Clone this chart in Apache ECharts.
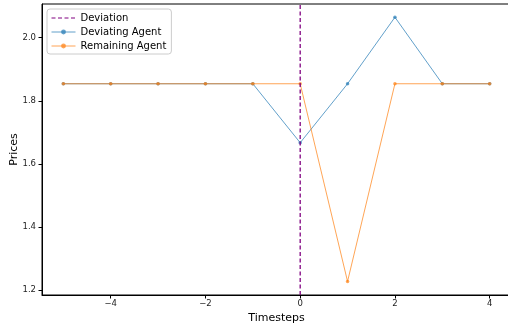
<!DOCTYPE html>
<html>
<head>
<meta charset="utf-8">
<script src="https://cdn.jsdelivr.net/npm/echarts@6/dist/echarts.min.js"></script>
<style>
html,body{margin:0;padding:0;background:#fff;}
#c{width:508px;height:330px;}
</style>
</head>
<body>
<div id="c"></div>
<script>
const timesteps = [-5, -4, -3, -2, -1, 0, 1, 2, 3, 4];
const deviatingAgent = [1.854, 1.854, 1.854, 1.854, 1.854, 1.667, 1.854, 2.065, 1.854, 1.854];
const remainingAgent = [1.854, 1.854, 1.854, 1.854, 1.854, 1.854, 1.227, 1.854, 1.854, 1.854];
const deviationStep = 0;
const xTicks = [-4, -2, 0, 2, 4];
const yTicks = [1.2, 1.4, 1.6, 1.8, 2.0];
const xRange = [-5.45, 4.45];
const yRange = [1.184, 2.107];

const font = 'DejaVu Sans';
const chart = echarts.init(document.getElementById('c'), null, {renderer: 'canvas'});
const pair = (xs, ys) => xs.map((x, i) => [x, ys[i]]);
const fmtMinus = v => (v < 0 ? '\u2212' + Math.abs(v) : String(v));

chart.setOption({
  animation: false,
  backgroundColor: '#fff',
  grid: {left: 42, top: 4, right: -3, bottom: 35, outerBoundsMode: 'none', containLabel: false,
         show: true, borderColor: '#000', borderWidth: 1, backgroundColor: 'transparent'},
  legend: {
    orient: 'vertical', left: 47, top: 9,
    itemWidth: 24, itemHeight: 6, itemGap: 4,
    padding: [4, 5, 3, 4],
    borderColor: '#ccc', borderWidth: 1, borderRadius: 3,
    backgroundColor: 'rgba(255,255,255,0.8)',
    textStyle: {fontFamily: font, fontSize: 10, color: '#000'},
    lineStyle: {width: 1},
    data: [
      {name: 'Deviation', itemStyle: {opacity: 0}},
      {name: 'Deviating Agent', lineStyle: {opacity: 0.7}},
      {name: 'Remaining Agent', lineStyle: {opacity: 0.7}}
    ]
  },
  xAxis: {
    type: 'value', min: xRange[0], max: xRange[1],
    name: 'Timesteps', nameLocation: 'middle', nameGap: 18, nameMoveOverlap: false,
    nameTextStyle: {fontFamily: font, fontSize: 11, color: '#000'},
    axisLine: {show: true, onZero: false, lineStyle: {color: '#000', width: 1}},
    axisTick: {show: true, length: 3.5, customValues: xTicks, lineStyle: {color: '#000'}},
    axisLabel: {customValues: xTicks, formatter: fmtMinus, fontFamily: font, fontSize: 8.5, color: '#222', margin: 4},
    splitLine: {show: false}
  },
  yAxis: {
    type: 'value', min: yRange[0], max: yRange[1],
    name: 'Prices', nameLocation: 'middle', nameGap: 22, nameMoveOverlap: false,
    nameTextStyle: {fontFamily: font, fontSize: 11, color: '#000'},
    axisLine: {show: true, onZero: false, lineStyle: {color: '#000', width: 1}},
    axisTick: {show: true, length: 3.5, customValues: yTicks, lineStyle: {color: '#000'}},
    axisLabel: {customValues: yTicks, formatter: v => v.toFixed(1), fontFamily: font, fontSize: 8.5, color: '#222', margin: 6},
    splitLine: {show: false}
  },
  series: [
    {
      name: 'Deviation', type: 'line', symbol: 'none',
      data: [[deviationStep, yRange[0]], [deviationStep, yRange[1]]],
      lineStyle: {color: '#800080', width: 1.3, type: [4, 2.5]},
      itemStyle: {color: '#800080'},
      z: 5
    },
    {
      name: 'Deviating Agent', type: 'line', symbol: 'circle', symbolSize: 3.5,
      data: pair(timesteps, deviatingAgent),
      lineStyle: {color: '#1f77b4', width: 1, opacity: 0.7},
      itemStyle: {color: '#1f77b4', opacity: 0.7},
      z: 3
    },
    {
      name: 'Remaining Agent', type: 'line', symbol: 'circle', symbolSize: 3.5,
      data: pair(timesteps, remainingAgent),
      lineStyle: {color: '#ff7f0e', width: 1, opacity: 0.7},
      itemStyle: {color: '#ff7f0e', opacity: 0.7},
      z: 4
    }
  ]
});
</script>
</body>
</html>
